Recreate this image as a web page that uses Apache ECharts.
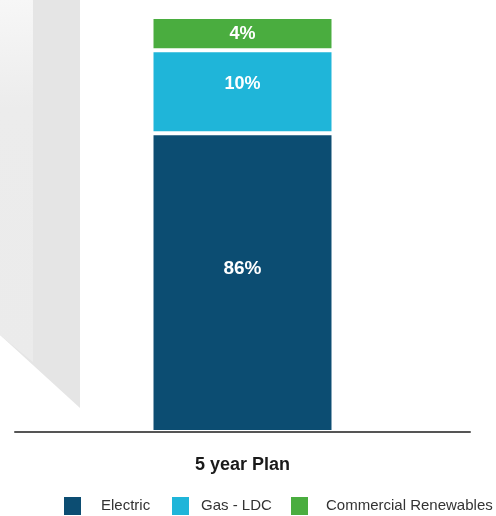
<!DOCTYPE html>
<html>
<head>
<meta charset="utf-8">
<script src="https://cdn.jsdelivr.net/npm/echarts@6/dist/echarts.min.js"></script>
<style>html,body{margin:0;padding:0;background:#fff}#c{width:496px;height:516px}</style>
</head>
<body>
<div id="c"></div>
<script>
var categories = ['5 year Plan'];
var seriesNames = ['Electric', 'Gas - LDC', 'Commercial Renewables'];
// segment heights as drawn (share of the bar)
var electricValues = [72];
var gasValues = [20];
var renewablesValues = [8];
// printed labels
var electricLabels = ['86%'];
var gasLabels = ['10%'];
var renewablesLabels = ['4%'];

var colors = ['#0c4d72', '#1fb5d9', '#4aad3f'];
var chart = echarts.init(document.getElementById('c'), null, {renderer: 'canvas'});
var font = '"Liberation Sans", Arial, sans-serif';

function mk(name, data, labels, color, size, off) {
  return {
    name: name, type: 'bar', stack: 'a', data: data, barWidth: 182,
    itemStyle: {color: color, borderColor: '#fff', borderWidth: 2},
    label: {show: true, position: 'inside', offset: off, color: '#fff', fontWeight: 'bold',
      fontFamily: font, fontSize: size,
      formatter: function (p) { return labels[p.dataIndex]; }}
  };
}
function lg(name, left, pad) {
  return {data: [name], left: left, top: 497, icon: 'rect', itemWidth: 17, itemHeight: 18,
    padding: 0, itemStyle: {borderWidth: 0},
    textStyle: {color: '#333', fontSize: 15, fontFamily: font, padding: [0, 0, 0, pad]}};
}
chart.setOption({
  animation: false,
  color: colors,
  graphic: [
    {type: 'polygon', z: -10, shape: {points: [[0,0],[80,0],[80,408],[0,335]]}, style: {fill: '#e5e5e5'}},
    {type: 'polygon', z: -9, shape: {points: [[0,0],[33,0],[33,362],[0,335]]},
      style: {fill: new echarts.graphic.LinearGradient(0,0,0.3,1,[{offset:0,color:'#f7f7f7'},{offset:0.3,color:'#ececec'},{offset:1,color:'#ebebeb'}])}}
  ],
  grid: {left: 15, right: 26, top: 17, bottom: 84},
  legend: [lg('Electric', 64, 15), lg('Gas - LDC', 172, 7), lg('Commercial Renewables', 291, 13)],
  xAxis: {type: 'category', data: categories, z: 5,
    axisLine: {lineStyle: {color: '#555', width: 2}}, axisTick: {show: false},
    axisLabel: {color: '#1a1a1a', fontWeight: 'bold', fontSize: 18, fontFamily: font, margin: 24}},
  yAxis: {type: 'value', min: 0, max: 100, show: false, splitLine: {show: false}},
  series: [
    mk('Electric', electricValues, electricLabels, colors[0], 19, [0, -14]),
    mk('Gas - LDC', gasValues, gasLabels, colors[1], 18, [0, -8]),
    mk('Commercial Renewables', renewablesValues, renewablesLabels, colors[2], 18, [0, 0])
  ]
});
</script>
</body>
</html>
